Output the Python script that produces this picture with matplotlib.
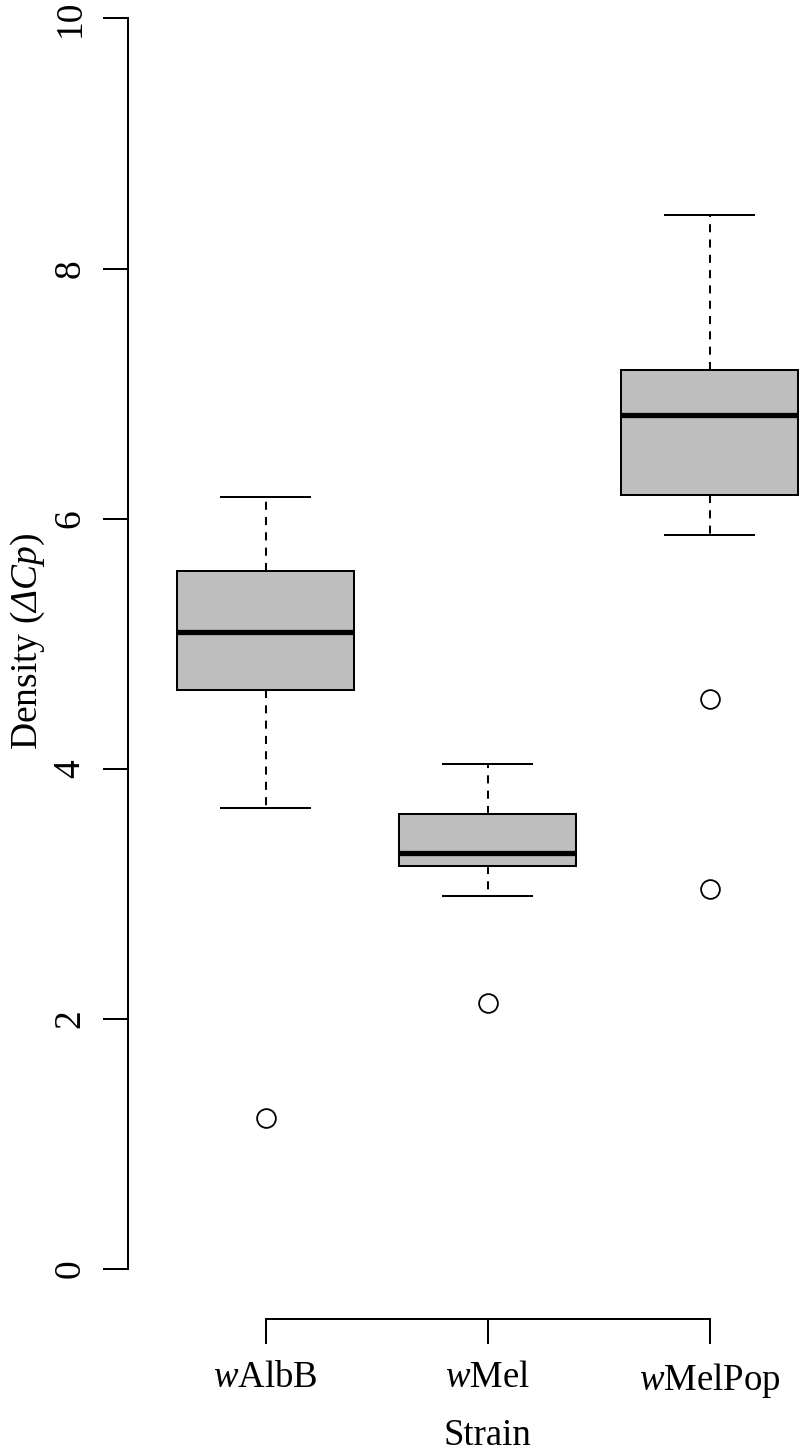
import matplotlib
matplotlib.use("Agg")
import matplotlib.pyplot as plt

plt.rcParams['font.family'] = ['Liberation Serif', 'DejaVu Serif']
plt.rcParams['mathtext.fontset'] = 'custom'
plt.rcParams['mathtext.rm'] = 'Liberation Serif'
plt.rcParams['mathtext.it'] = 'Liberation Serif:italic'
plt.rcParams['mathtext.sf'] = 'Liberation Serif:italic'

# ---- data ----
strains = ['wAlbB', 'wMel', 'wMelPop']
tick_labels = ['$w$AlbB', '$w$Mel', '$w$MelPop']
whis_lo = [3.69, 2.98, 5.87]
q1 = [4.63, 3.22, 6.19]
median = [5.09, 3.33, 6.83]
q3 = [5.58, 3.64, 7.19]
whis_hi = [6.17, 4.04, 8.43]
outliers = [[1.21], [2.13], [4.56, 3.04]]
y_ticks = [0, 2, 4, 6, 8, 10]

W, H = 800, 1454
fig = plt.figure(figsize=(W / 100, H / 100), dpi=100)
# axes geometry (R-like plot region, partly cropped at top/right)
left_px, bottom_px = 128, 1319
xlim = (0.38, 3.62)
ylim = (-0.4, 10.4)
px_per_x = 222.0
px_per_y = 125.05
ax = fig.add_axes([left_px / W, (H - bottom_px) / H,
                   (xlim[1] - xlim[0]) * px_per_x / W,
                   (ylim[1] - ylim[0]) * px_per_y / H])

stats = []
for i, name in enumerate(strains):
    stats.append(dict(label=name, med=median[i], q1=q1[i], q3=q3[i],
                      whislo=whis_lo[i], whishi=whis_hi[i], fliers=outliers[i]))

lw = 1.45
ax.bxp(stats, positions=[1, 2, 3], widths=0.8, capwidths=0.4,
       patch_artist=True, showfliers=True,
       boxprops=dict(facecolor='#BEBEBE', edgecolor='black', linewidth=lw),
       medianprops=dict(color='black', linewidth=3.8, solid_capstyle='butt'),
       whiskerprops=dict(color='black', linewidth=lw, linestyle=(0, (4, 3.6))),
       capprops=dict(color='black', linewidth=lw),
       flierprops=dict(marker='o', markerfacecolor='none', markeredgecolor='black',
                       markersize=13.5, markeredgewidth=1.3, linestyle='none'))

ax.set_xlim(*xlim)
ax.set_ylim(*ylim)

for s in ['top', 'right']:
    ax.spines[s].set_visible(False)
ax.spines['left'].set_bounds(0, 10)
ax.spines['bottom'].set_bounds(1, 3)
for s in ['left', 'bottom']:
    ax.spines[s].set_linewidth(lw)

ax.set_yticks(y_ticks)
ax.set_yticklabels([str(v) for v in y_ticks], rotation=90, va='center', fontsize=27)
ax.set_xticks([1, 2, 3])
ax.set_xticklabels(tick_labels, fontsize=26.5)
ax.tick_params(axis='both', length=18, width=lw, direction='out')
ax.tick_params(axis='y', pad=11)
ax.tick_params(axis='x', pad=12)

ax.set_xlabel('Strain', fontsize=26.5, va='baseline')
ax.xaxis.set_label_coords(0.5, -(1445 - bottom_px) / ((ylim[1] - ylim[0]) * px_per_y))
ax.set_ylabel(r'Density ($\mathsf{\Delta Cp}$)', fontsize=27, va='baseline')
ax.yaxis.set_label_coords((37 - left_px) / ((xlim[1] - xlim[0]) * px_per_x),
                          (bottom_px - 641) / ((ylim[1] - ylim[0]) * px_per_y))

fig.savefig('out.png', dpi=100)
